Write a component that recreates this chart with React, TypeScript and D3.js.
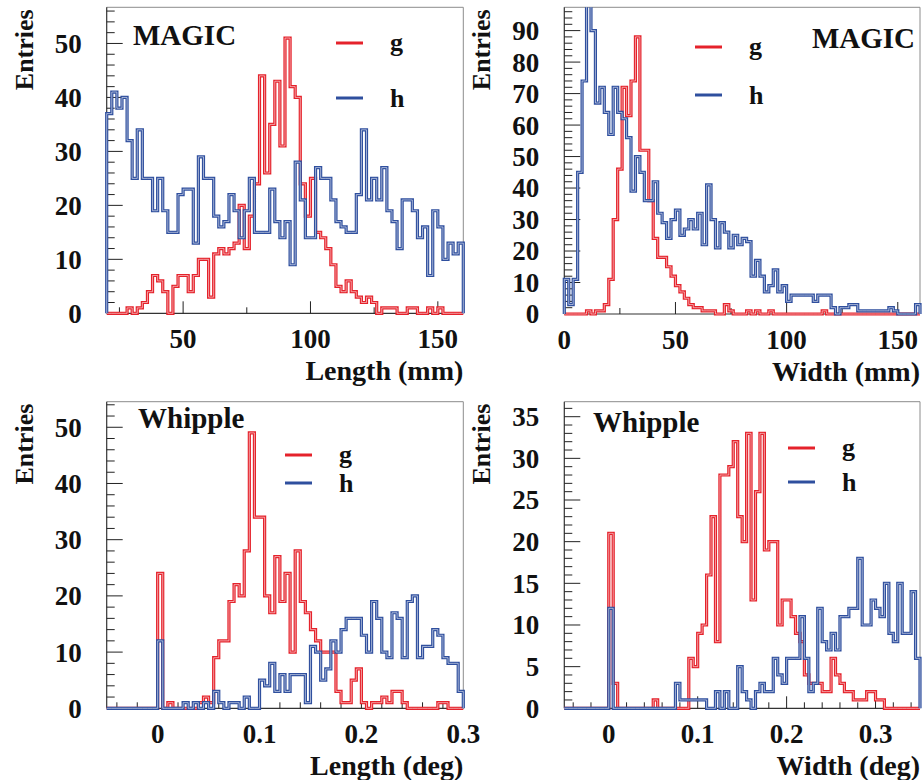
import React from 'react';
import * as d3 from 'd3';

// ---- MAGIC, Length (mm): 70 bins over [20, 160]
const magicLenRange: [number, number] = [20, 160];
const magicLenG = [
  0, 0, 0, 0, 1, 0, 1, 2, 4, 7,
  6, 4, 0, 5, 7, 7, 4, 7, 10, 10,
  3, 11, 12, 11, 12, 13, 20, 12, 18, 24,
  44, 26, 35, 43, 31, 51, 42, 40, 24, 18,
  25, 15, 14, 12, 9, 5, 4, 6, 4, 3,
  2, 3, 2, 0, 1, 1, 1, 0, 0, 1,
  1, 0, 0, 1, 0, 1, 0, 0, 0, 0,
];
const magicLenH = [
  37, 41, 38, 40, 32, 25, 34, 25, 25, 19,
  25, 19, 15, 15, 22, 23, 23, 13, 29, 25,
  25, 18, 16, 17, 22, 19, 14, 19, 25, 15,
  15, 15, 23, 17, 14, 17, 9, 28, 21, 14,
  14, 27, 25, 25, 21, 17, 16, 15, 15, 22,
  34, 21, 25, 21, 27, 19, 17, 12, 21, 21,
  19, 14, 16, 7, 19, 16, 10, 13, 11, 13,
];

// ---- MAGIC, Width (mm): 80 bins over [0, 160]
const magicWidRange: [number, number] = [0, 160];
const magicWidG = [
  0, 0, 0, 0, 0, 1, 0, 1, 1, 3,
  11, 30, 46, 72, 63, 74, 88, 52, 52, 36,
  24, 18, 18, 15, 12, 9, 7, 5, 3, 2,
  2, 1, 1, 1, 0, 0, 3, 1, 0, 0,
  0, 1, 0, 1, 0, 0, 1, 0, 0, 0,
  0, 0, 0, 0, 0, 0, 0, 0, 1, 0,
  0, 0, 0, 0, 0, 0, 0, 0, 0, 0,
  0, 0, 0, 0, 0, 0, 0, 0, 0, 0,
];
const magicWidH = [
  11, 3, 11, 45, 74, 99, 90, 67, 72, 64,
  57, 72, 64, 62, 56, 39, 50, 45, 36, 36,
  42, 32, 29, 24, 30, 33, 25, 27, 30, 27,
  32, 22, 41, 30, 21, 29, 26, 21, 25, 22,
  24, 23, 12, 17, 12, 7, 9, 14, 7, 9,
  4, 6, 6, 6, 6, 6, 4, 6, 6, 6,
  2, 0, 2, 2, 3, 3, 1, 1, 1, 1,
  1, 1, 1, 2, 1, 0, 0, 0, 0, 3,
];

// ---- Whipple, Length (deg): 70 bins over [-0.05, 0.30]
const whipLenRange: [number, number] = [-0.05, 0.3];
const whipLenG = [
  0, 0, 0, 0, 0, 0, 0, 0, 0, 0,
  24, 0, 1, 0, 0, 0, 0, 0, 1, 2,
  1, 9, 12, 12, 19, 22, 20, 28, 49, 34,
  34, 20, 17, 27, 19, 24, 10, 28, 19, 17,
  14, 12, 10, 10, 10, 3, 1, 1, 5, 7,
  1, 0, 1, 1, 2, 1, 3, 3, 1, 0,
  0, 0, 0, 0, 0, 1, 1, 0, 0, 0,
];
const whipLenH = [
  0, 0, 0, 0, 0, 0, 0, 0, 0, 0,
  12, 0, 0, 0, 0, 1, 0, 1, 0, 1,
  0, 3, 1, 0, 1, 1, 0, 2, 0, 0,
  5, 4, 8, 3, 6, 3, 6, 6, 6, 1,
  11, 10, 5, 7, 12, 10, 14, 16, 16, 16,
  13, 10, 19, 16, 10, 9, 17, 16, 9, 19,
  20, 9, 11, 11, 14, 13, 9, 8, 8, 3,
];

// ---- Whipple, Width (deg): 80 bins over [-0.05, 0.35]
const whipWidRange: [number, number] = [-0.05, 0.35];
const whipWidG = [
  0, 0, 0, 0, 0, 0, 0, 0, 0, 0,
  21, 3, 0, 0, 0, 0, 0, 0, 0, 0,
  1, 0, 0, 0, 0, 0, 0, 0, 6, 5,
  9, 10, 16, 23, 8, 28, 28, 29, 32, 23,
  20, 33, 13, 26, 33, 19, 20, 20, 10, 13,
  13, 11, 9, 8, 4, 3, 3, 3, 2, 2,
  6, 4, 3, 2, 2, 1, 1, 1, 2, 2,
  1, 1, 0, 0, 0, 0, 0, 0, 0, 0,
];
const whipWidH = [
  0, 0, 0, 0, 0, 0, 0, 0, 0, 0,
  12, 0, 0, 0, 0, 0, 0, 0, 0, 0,
  0, 0, 0, 0, 0, 3, 1, 1, 1, 1,
  1, 1, 0, 0, 2, 0, 2, 0, 0, 5,
  2, 1, 0, 2, 3, 2, 2, 6, 4, 3,
  6, 6, 6, 11, 6, 2, 3, 12, 8, 7,
  9, 7, 11, 11, 12, 12, 18, 10, 10, 13,
  12, 11, 15, 9, 8, 15, 9, 9, 14, 6,
];

// Axis tick labels
const magicLenTicks = [50, 100, 150];
const magicWidTicks = [0, 50, 100, 150];
const degLenTicks = [0, 0.1, 0.2, 0.3];
const degWidTicks = [0, 0.1, 0.2, 0.3];
const entriesTicks50 = [0, 10, 20, 30, 40, 50];
const entriesTicks90 = [0, 10, 20, 30, 40, 50, 60, 70, 80, 90];
const entriesTicks35 = [0, 5, 10, 15, 20, 25, 30, 35];

const RED = '#e5222b';
const BLUE = '#2f4f9e';
const FONT = 'Liberation Serif, Times New Roman, serif';

type PanelCfg = {
  id: string;
  frame: [number, number, number, number]; // left, top, right, bottom
  xRange: [number, number];
  yMax: number;
  g: number[];
  h: number[];
  xTicks: number[];
  xMinorStep: number;
  yTicks: number[];
  yMinorStep: number;
  xTitle: string;
  tag: string;
  tagX: number;
  tagY: number;
  tagAnchor: 'start' | 'end';
  legendX: number;
  legendYg: number;
  legendYh: number;
};

function histPath(vals: number[], x: d3.ScaleLinear<number, number>, y: d3.ScaleLinear<number, number>) {
  const [a, b] = x.domain();
  const w = (b - a) / vals.length;
  const pts: [number, number][] = [[x(a), y(0)]];
  vals.forEach((v, i) => {
    pts.push([x(a + i * w), y(v)]);
    pts.push([x(a + (i + 1) * w), y(v)]);
  });
  pts.push([x(b), y(0)]);
  return d3.line()(pts) as string;
}

function fmt(v: number) {
  return String(+v.toFixed(3));
}

function Hist({ d, color }: { d: string; color: string }) {
  return (
    <g>
      <path d={d} fill="none" stroke={color} strokeWidth={3.2} strokeLinejoin="miter" />
      <path d={d} fill="none" stroke="#ffffff" strokeOpacity={0.55} strokeWidth={1} />
    </g>
  );
}

function Panel({ c }: { c: PanelCfg }) {
  const [L, T, R, B] = c.frame;
  const x = d3.scaleLinear().domain(c.xRange).range([L, R]);
  const y = d3.scaleLinear().domain([0, c.yMax]).range([B, T]);

  const xMinor = d3
    .range(Math.ceil(c.xRange[0] / c.xMinorStep - 1e-9), Math.floor(c.xRange[1] / c.xMinorStep + 1e-9) + 1)
    .map((k) => +(k * c.xMinorStep).toFixed(6))
    .filter((v) => !c.xTicks.some((t) => Math.abs(t - v) < 1e-9));
  const yMinor = d3
    .range(0, Math.floor(c.yMax / c.yMinorStep) + 1)
    .map((k) => k * c.yMinorStep)
    .filter((v) => !c.yTicks.includes(v));

  return (
    <g>
      <defs>
        <clipPath id={c.id}>
          <rect x={L - 4} y={T} width={R - L + 8} height={B - T + 4} />
        </clipPath>
      </defs>
      {/* frame */}
      <line x1={L} y1={T} x2={R} y2={T} stroke="#8c8c8c" strokeWidth={1} />
      <line x1={R} y1={T} x2={R} y2={B} stroke="#8c8c8c" strokeWidth={1} />
      <line x1={L} y1={T} x2={L} y2={B} stroke="#333" strokeWidth={1.2} />
      <line x1={L} y1={B} x2={R} y2={B} stroke="#333" strokeWidth={1.2} />

      {/* y ticks */}
      {c.yTicks.map((v) => (
        <line key={'ym' + v} x1={L} x2={L + 16} y1={y(v)} y2={y(v)} stroke="#222" strokeWidth={1} />
      ))}
      {yMinor.map((v) => (
        <line key={'yn' + v} x1={L} x2={L + 8} y1={y(v)} y2={y(v)} stroke="#222" strokeWidth={1} />
      ))}
      {/* x ticks */}
      {c.xTicks.map((v) => (
        <line key={'xm' + v} x1={x(v)} x2={x(v)} y1={B} y2={B - 12} stroke="#222" strokeWidth={1} />
      ))}
      {xMinor.map((v) => (
        <line key={'xn' + v} x1={x(v)} x2={x(v)} y1={B} y2={B - 6} stroke="#222" strokeWidth={1} />
      ))}

      {/* histograms */}
      <g clipPath={`url(#${c.id})`}>
        <Hist d={histPath(c.g, x, y)} color={RED} />
        <Hist d={histPath(c.h, x, y)} color={BLUE} />
      </g>

      {/* tick labels */}
      <g fontFamily={FONT} fontWeight="bold" fontSize={27} fill="#111">
        {c.yTicks.map((v) => (
          <text key={'yl' + v} x={L - 25} y={y(v)} dy="0.35em" textAnchor="end">
            {fmt(v)}
          </text>
        ))}
        {c.xTicks.map((v) => (
          <text key={'xl' + v} x={x(v)} y={B + 35} textAnchor="middle">
            {fmt(v)}
          </text>
        ))}
      </g>

      {/* axis titles */}
      <text x={R} y={B + 67} textAnchor="end" fontFamily={FONT} fontWeight="bold" fontSize={28} fill="#111">
        {c.xTitle}
      </text>
      <text
        transform={`translate(${L - 74},${T + 2}) rotate(-90)`}
        textAnchor="end"
        fontFamily={FONT}
        fontWeight="bold"
        fontSize={26}
        fill="#111"
      >
        Entries
      </text>

      {/* experiment tag */}
      <text x={c.tagX} y={c.tagY} textAnchor={c.tagAnchor} fontFamily={FONT} fontWeight="bold" fontSize={29} fill="#111">
        {c.tag}
      </text>

      {/* legend */}
      <line x1={c.legendX} x2={c.legendX + 27} y1={c.legendYg} y2={c.legendYg} stroke={RED} strokeWidth={3} />
      <line x1={c.legendX} x2={c.legendX + 27} y1={c.legendYh} y2={c.legendYh} stroke={BLUE} strokeWidth={3} />
      <g fontFamily={FONT} fontWeight="bold" fontSize={26} fill="#111">
        <text x={c.legendX + 54} y={c.legendYg + 8}>g</text>
        <text x={c.legendX + 54} y={c.legendYh + 9}>h</text>
      </g>
    </g>
  );
}

const panels: PanelCfg[] = [
  {
    id: 'clip-magic-len',
    frame: [106.7, 7.3, 463.3, 313.3],
    xRange: magicLenRange,
    yMax: 56.7,
    g: magicLenG,
    h: magicLenH,
    xTicks: magicLenTicks,
    xMinorStep: 25,
    yTicks: entriesTicks50,
    yMinorStep: 2,
    xTitle: 'Length (mm)',
    tag: 'MAGIC',
    tagX: 133,
    tagY: 45,
    tagAnchor: 'start',
    legendX: 336,
    legendYg: 43,
    legendYh: 98,
  },
  {
    id: 'clip-magic-wid',
    frame: [564.3, 7.3, 920, 314],
    xRange: magicWidRange,
    yMax: 97.4,
    g: magicWidG,
    h: magicWidH,
    xTicks: magicWidTicks,
    xMinorStep: 25,
    yTicks: entriesTicks90,
    yMinorStep: 2,
    xTitle: 'Width (mm)',
    tag: 'MAGIC',
    tagX: 915,
    tagY: 48,
    tagAnchor: 'end',
    legendX: 695,
    legendYg: 47,
    legendYh: 95,
  },
  {
    id: 'clip-whip-len',
    frame: [106.7, 401.7, 463.3, 708.3],
    xRange: whipLenRange,
    yMax: 54.55,
    g: whipLenG,
    h: whipLenH,
    xTicks: degLenTicks,
    xMinorStep: 0.02,
    yTicks: entriesTicks50,
    yMinorStep: 2,
    xTitle: 'Length (deg)',
    tag: 'Whipple',
    tagX: 138,
    tagY: 428,
    tagAnchor: 'start',
    legendX: 285,
    legendYg: 455,
    legendYh: 483,
  },
  {
    id: 'clip-whip-wid',
    frame: [564.3, 401.7, 920, 708.3],
    xRange: whipWidRange,
    yMax: 36.8,
    g: whipWidG,
    h: whipWidH,
    xTicks: degWidTicks,
    xMinorStep: 0.02,
    yTicks: entriesTicks35,
    yMinorStep: 1,
    xTitle: 'Width (deg)',
    tag: 'Whipple',
    tagX: 593,
    tagY: 432,
    tagAnchor: 'start',
    legendX: 788,
    legendYg: 448,
    legendYh: 482,
  },
];

export default function App() {
  return (
    <svg
      width={923}
      height={780}
      style={{ position: 'absolute', left: 0, top: 0, background: '#fff' }}
    >
      <rect x={0} y={0} width={923} height={780} fill="#fff" />
      {panels.map((p) => (
        <Panel key={p.id} c={p} />
      ))}
    </svg>
  );
}
